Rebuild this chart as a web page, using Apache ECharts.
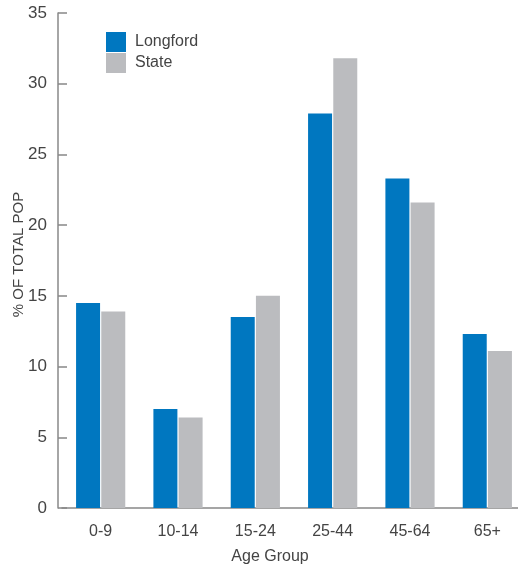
<!DOCTYPE html>
<html><head><meta charset="utf-8">
<script src="https://cdn.jsdelivr.net/npm/echarts@6/dist/echarts.min.js"></script>
<style>html,body{margin:0;padding:0;background:#fff}#c{width:518px;height:568px}</style>
</head><body><div id="c"></div>
<script>
const categories = ['0-9','10-14','15-24','25-44','45-64','65+'];
const longford = [14.5, 7.0, 13.5, 27.9, 23.3, 12.3];
const state = [13.9, 6.4, 15.0, 31.8, 21.6, 11.1];
const yTicks = [0,5,10,15,20,25,30,35];
const seriesNames = ['Longford','State'];

const font = '"Liberation Sans", Arial, sans-serif';
const chart = echarts.init(document.getElementById('c'), null, {renderer:'canvas'});
chart.setOption({
  animation:false,
  textStyle:{fontFamily:font},
  grid:{left:62, right:-8, top:13, bottom:60, containLabel:false, outerBoundsMode:'none'},
  legend:{
    orient:'vertical', left:106, top:32, padding:0, itemWidth:20, itemHeight:20, itemGap:1,
    icon:'rect', data:seriesNames,
    textStyle:{fontSize:16, color:'#444', fontFamily:font, padding:[0,0,0,4]}
  },
  xAxis:{
    type:'category', data:categories,
    axisLine:{lineStyle:{color:'#888', width:1.5}},
    axisTick:{show:false},
    axisLabel:{fontSize:16, color:'#444', margin:16, fontFamily:font},
    name:'Age Group', nameLocation:'middle', nameGap:41, nameMoveOverlap:false,
    nameTextStyle:{fontSize:16, color:'#444', fontFamily:font, padding:[0,0,0,-48]}
  },
  yAxis:{
    type:'value', min:yTicks[0], max:yTicks[yTicks.length-1], interval:5, offset:4,
    axisLine:{show:true, lineStyle:{color:'#888', width:1.5}},
    axisTick:{show:true, inside:true, length:9, lineStyle:{color:'#888', width:1.5}},
    splitLine:{show:false},
    axisLabel:{fontSize:17, color:'#444', margin:11, fontFamily:font},
    name:'% OF TOTAL POP', nameLocation:'middle', nameGap:32, nameRotate:90, nameMoveOverlap:false,
    nameTextStyle:{fontSize:15, color:'#444', fontFamily:font, padding:[0,0,0,12]}
  },
  series:[
    {name:seriesNames[0], type:'bar', data:longford, barWidth:24, barGap:'5%',
     itemStyle:{color:'#0077C0'}},
    {name:seriesNames[1], type:'bar', data:state, barWidth:24, barGap:'5%',
     itemStyle:{color:'#BBBCBF'}}
  ]
});
</script></body></html>
